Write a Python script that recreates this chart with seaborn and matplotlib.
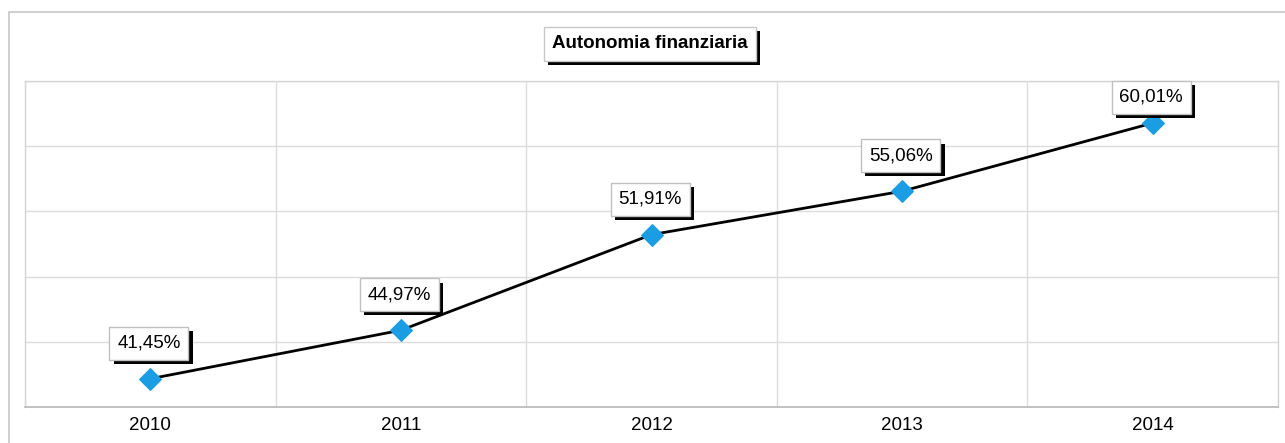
import numpy as np
import pandas as pd
import matplotlib
matplotlib.use('Agg')
import matplotlib.pyplot as plt
import matplotlib.patheffects as pe
from matplotlib.patches import Rectangle
import seaborn as sns

sns.set_style('white')
plt.rcParams['font.family'] = ['Liberation Sans', 'DejaVu Sans']
plt.rcParams['text.color'] = 'black'
plt.rcParams['xtick.color'] = 'black'

# data
anni = ['2010', '2011', '2012', '2013', '2014']
valori = [41.45, 44.97, 51.91, 55.06, 60.01]
etichette = ['41,45%', '44,97%', '51,91%', '55,06%', '60,01%']
titolo = 'Autonomia finanziaria'

df = pd.DataFrame({'pos': np.arange(len(anni)), 'valore': valori})

fig = plt.figure(figsize=(12.85, 4.43), dpi=100)
ax = fig.add_axes([25/1285, 36/443, 1253/1285, 326/443])

sns.lineplot(data=df, x='pos', y='valore', ax=ax, color='black', linewidth=2.0,
             marker='D', markersize=11.5, markerfacecolor='#1a9de2',
             markeredgecolor='#1a9de2', zorder=3)

ax.set_xlim(-0.5, len(anni) - 0.5)
ax.set_ylim(39.40, 63.06)

# grid
ax.set_yticks(np.linspace(39.40, 63.06, 6))
ax.set_yticklabels([])
ax.tick_params(axis='y', length=0)
ax.set_xticks(np.arange(len(anni)))
ax.set_xticklabels(anni, fontsize=13.5, color='black')
ax.set_xticks(np.arange(len(anni) + 1) - 0.5, minor=True)
ax.tick_params(axis='x', which='major', length=0, pad=7)
ax.tick_params(axis='x', which='minor', length=11, width=1, color='#c8c8c8')
ax.grid(False)
ax.yaxis.grid(True, color='#dcdcdc', linewidth=1)
ax.xaxis.grid(True, which='minor', color='#dcdcdc', linewidth=1)
ax.set_axisbelow(True)
for s in ['left', 'right', 'top']:
    ax.spines[s].set_color('#d4d4d4')
    ax.spines[s].set_linewidth(1)
ax.spines['bottom'].set_color('#b8b8b8')
ax.spines['bottom'].set_linewidth(1.2)
ax.set_xlabel('')
ax.set_ylabel('')

shadow = [pe.SimplePatchShadow(offset=(3, -3), shadow_rgbFace='black', alpha=1), pe.Normal()]

labels = []
for i, (v, lab) in enumerate(zip(valori, etichette)):
    t = ax.annotate(lab, xy=(i, v), xytext=(-1, 25.5), textcoords='offset points',
                    ha='center', va='center', fontsize=13.5, color='black', zorder=5,
                    bbox=dict(boxstyle='square,pad=0.42', facecolor='white',
                              edgecolor='#c0c0c0', linewidth=1))
    t.get_bbox_patch().set_path_effects(shadow)
    labels.append(t)

# keep the labels inside the plot area (like the original spreadsheet)
fig.canvas.draw()
ren = fig.canvas.get_renderer()
ax_top = ax.get_window_extent(ren).y1
for t in labels:
    top = t.get_bbox_patch().get_window_extent(ren).y1
    if top > ax_top:
        x0, y0 = t.get_position()
        t.set_position((x0, y0 - (top - ax_top) * 72 / fig.dpi))

tt = fig.text(650/1285, 1 - 44/443, titolo, ha='center', va='center',
              fontsize=13.5, fontweight='bold', color='black',
              bbox=dict(boxstyle='square,pad=0.45', facecolor='white',
                        edgecolor='#c8c8c8', linewidth=1))
tt.get_bbox_patch().set_path_effects(shadow)

# outer frame
fig.patches.append(Rectangle((9/1285, -0.1), 1.2, 1 - 12/443 + 0.1,
                             transform=fig.transFigure, fill=False,
                             edgecolor='#c8c8c8', linewidth=1.2))

fig.savefig('out.png', dpi=100)
